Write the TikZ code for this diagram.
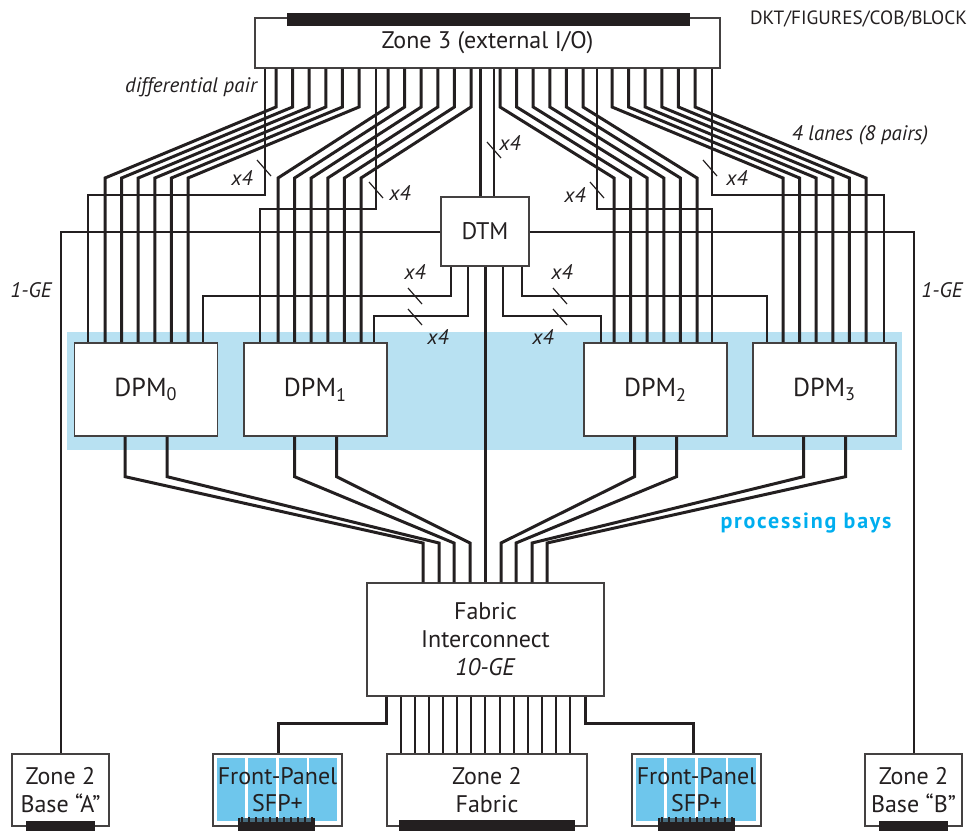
\documentclass[tikz,border=0pt]{standalone}
\usepackage{fontspec}
\setmainfont{PT Sans}
\definecolor{ink}{RGB}{35,31,32}
\definecolor{bayblue}{RGB}{184,225,242}
\definecolor{sfpblue}{RGB}{110,198,236}
\definecolor{baycyan}{RGB}{0,174,239}
\tikzset{
  box/.style={draw=ink!85, line width=0.65pt, fill=white, inner sep=0pt, text=ink,
    font=\fontsize{12}{13.6}\selectfont, align=center},
  sfpbox/.style={box, minimum width=64.5pt, minimum height=36pt,
    path picture={\foreach \j in {0,...,3}
      \fill[sfpblue] ([xshift=(2+15.4*\j)*1pt, yshift=-2pt]path picture bounding box.north west) rectangle ++(14pt,-31.5pt);}},
  lane/.style={draw=ink, line width=1.5pt},
  ctrl/.style={draw=ink, line width=0.65pt},
  gelink/.style={draw=ink, line width=1pt},
  busmark/.style={draw=ink, line width=0.6pt},
  note/.style={text=ink, font=\fontsize{10.5}{12}\selectfont\itshape, inner sep=0pt},
}
\begin{document}
\begin{tikzpicture}[x=0.5pt, y=-0.5pt]
  \useasboundingbox (0,0) rectangle (978,831);
  \fill[bayblue] (67,332) rectangle (902,450);
  % boxes
  \node[box, minimum width=232.5pt, minimum height=25pt] (z3) at (487.5,43) {Zone 3 (external I/O)};
  \fill[ink] (287,13) rectangle (690,26);
  \node[box, minimum width=44pt, minimum height=34.5pt] (dtm) at (485,231.5) {DTM};
  \foreach \k/\cx in {0/146, 1/315.5, 2/655.5, 3/824.5}
    \node[box, minimum width=71.5pt, minimum height=46.5pt, font=\fontsize{13}{14}\selectfont] (dpm\k) at (\cx,389.5) {DPM\textsubscript{\k}};
  \node[box, minimum width=118.5pt, minimum height=56.5pt, font=\fontsize{12}{14}\selectfont] (fab) at (485.5,639.5) {Fabric\\Interconnect\\\textit{10-GE}};
  \node[box, minimum width=48.5pt, minimum height=36pt] (baseA) at (60.5,790) {Zone 2\\Base “A”};
  \node[box, minimum width=100pt, minimum height=36pt] (z2fab) at (487,790) {Zone 2\\Fabric};
  \node[box, minimum width=48.5pt, minimum height=36pt] (baseB) at (913.5,790) {Zone 2\\Base “B”};
  \node[sfpbox] (sfpL) at (277.5,790) {Front-Panel\\SFP+};
  \node[sfpbox] (sfpR) at (696.5,790) {Front-Panel\\SFP+};
  \fill[ink] (26,821) rectangle (95,831);
  \fill[ink] (399,820) rectangle (575,831);
  \fill[ink] (879,821) rectangle (948,831);
  \foreach \bx in {238, 658} {
    \fill[ink] (\bx,818) rectangle ++(77,13);
    \fill[sfpblue!45!ink] (\bx+2,818) rectangle ++(73,4);
    \foreach \t in {0,...,10}
      \fill[ink] (\bx+3+7*\t,817) rectangle ++(2,6);
  }
  % lanes from zone 3
  \foreach \tx/\bx/\dn in {276/105/dpm0, 388/278/dpm1, 500/614/dpm2, 612/783/dpm3}
    \foreach \i in {0,...,5}
      \draw[lane] (\tx+16.6*\i,0 |- z3.south) -- (\tx+16.6*\i,107) -- (\bx+16.6*\i,178) -- (\bx+16.6*\i,0 |- \dn.north);
  \foreach \tx/\hy/\bx/\dn in {265/195/88/dpm0, 376/209/260/dpm1, 597/209/712/dpm2, 712/195/884/dpm3}
    \draw[ctrl] (\tx,0 |- z3.south) |- (\bx,\hy) -- (\bx,0 |- \dn.north);
  \draw[lane] (480,0 |- z3.south) -- (480,0 |- dtm.north);
  \draw[ctrl] (494,0 |- z3.south) -- (494,0 |- dtm.north);
  % dtm links
  \foreach \sx/\hy/\bx/\dn in {451/296/203/dpm0, 468/316/374/dpm1, 503/316/601/dpm2, 522/296/767/dpm3}
    \draw[ctrl] (\sx,0 |- dtm.south) |- (\bx,\hy) -- (\bx,0 |- \dn.north);
  \draw[gelink] (dtm.west) -| (baseA.north);
  \draw[gelink] (dtm.east) -| (baseB.north);
  \draw[lane] (dtm.south) -- (dtm.south |- fab.north);
  % dpm to fabric
  \foreach \dn/\off/\fx in {dpm0/-21/423, dpm0/21/439, dpm1/-21/454, dpm1/21/470, dpm2/-21/501, dpm2/21/516, dpm3/-21/532, dpm3/21/547}
    \draw[lane] ([xshift=\off*0.5pt]\dn.south) -- ++(0,40) -- (\fx,543) -- (\fx,0 |- fab.north);
  % fabric to zone 2
  \foreach \i in {0,...,12}
    \draw[gelink] (401+14.08*\i,0 |- fab.south) -- (401+14.08*\i,0 |- z2fab.north);
  \draw[lane] (386,0 |- fab.south) |- (278,723) -- (278,0 |- sfpL.north);
  \draw[lane] (585,0 |- fab.south) |- (693,723) -- (693,0 |- sfpR.north);
  % bus marks
  \foreach \mx/\my/\lx/\ly [count=\n] in {264/168/242/178, 376/190/400/193, 494/150/510/143, 597/190/575/195, 710/168/737/178, 415/296/415/272, 415/317/438/337, 560/296/562/272, 560/317/543/337} {
    \draw[busmark] (\mx-7,\my-8) -- (\mx+7,\my+8);
    \node[note] (xfour\n) at (\lx,\ly) {x4};
  }
  \node[note] (diffpair) at (191,87) {differential pair};
  \node[note] (lanes) at (860,135) {4 lanes (8 pairs)};
  \node[note] (geA) at (31,290) {1-GE};
  \node[note] (geB) at (942,290) {1-GE};
  \node[text=ink, inner sep=0pt, font=\fontsize{9.6}{10}\selectfont] (tag) at (858.5,19) {DKT/FIGURES/COB/BLOCK};
  \node[text=baycyan, inner sep=0pt, font=\fontsize{11}{12}\selectfont\bfseries\addfontfeature{LetterSpace=8}] (bays) at (806,523) {processing bays};
\end{tikzpicture}
\end{document}
